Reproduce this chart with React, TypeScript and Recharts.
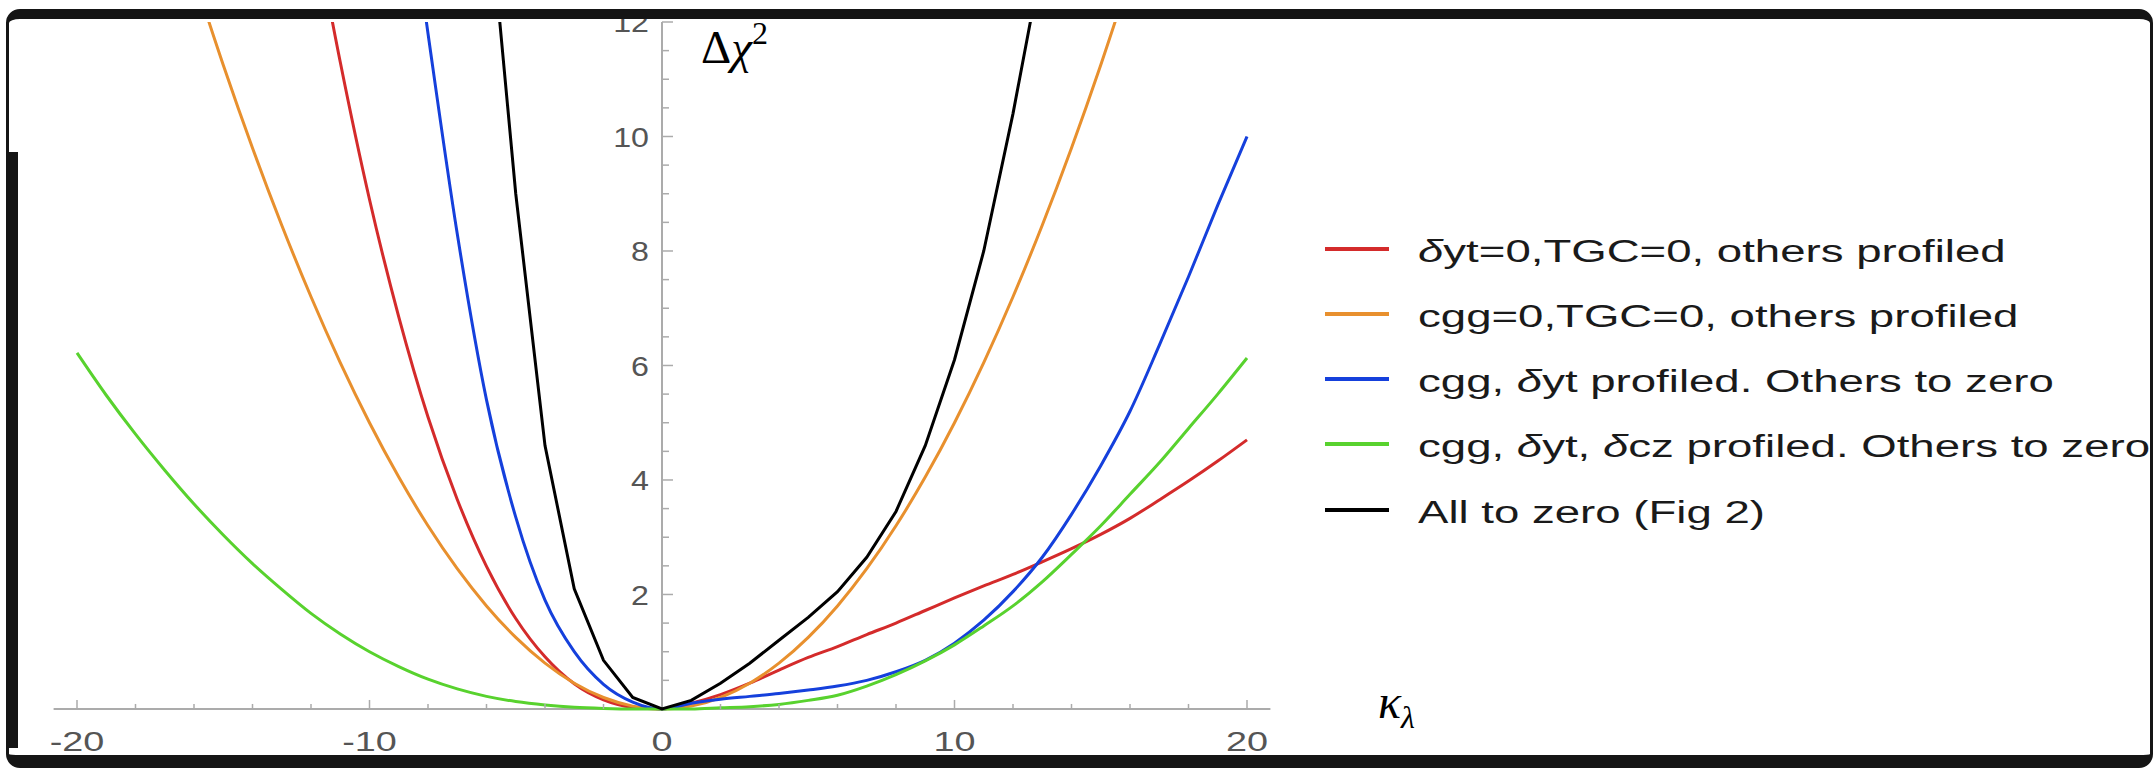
import React from 'react';
import { LineChart, Line, XAxis, YAxis, ReferenceLine, ReferenceDot, Legend } from 'recharts';

// kappa_lambda grid (integer steps)
const kappa = [
  -20, -19, -18, -17, -16, -15, -14, -13, -12, -11, -10, -9, -8, -7, -6, -5, -4, -3, -2, -1, 0,
  1, 2, 3, 4, 5, 6, 7, 8, 9, 10, 11, 12, 13, 14, 15, 16, 17, 18, 19, 20,
];

// delta chi^2 (null = far outside the plotted range)
const redVals = [
  null, null, null, null, null, null, null, null,
  14.0, 11.3, 8.9, 6.85, 5.1, 3.66, 2.49, 1.58, 0.91, 0.44, 0.16, 0.03, 0,
  0.1, 0.25, 0.45, 0.68, 0.9, 1.09, 1.3, 1.5, 1.72, 1.94, 2.15, 2.35, 2.57, 2.8, 3.05, 3.33, 3.65, 3.98, 4.33, 4.7,
];
const orangeVals = [
  null, null, null, null,
  12.8, 11.25, 9.8, 8.45, 7.2, 6.05, 5.0, 4.05, 3.2, 2.45, 1.8, 1.25, 0.8, 0.45, 0.2, 0.05, 0,
  0.05, 0.2, 0.45, 0.8, 1.25, 1.8, 2.45, 3.2, 4.05, 5.0, 6.05, 7.2, 8.45, 9.8, 11.25, 12.8,
  null, null, null, null,
];
const blueVals = [
  null, null, null, null, null, null, null, null, null, null, null,
  15.5, 11.8, 8.3, 5.4, 3.35, 1.9, 1.0, 0.43, 0.12, 0,
  0.1, 0.17, 0.22, 0.27, 0.33, 0.4, 0.5, 0.65, 0.85, 1.15, 1.55, 2.05, 2.65, 3.4, 4.25, 5.2, 6.35, 7.55, 8.8, 10.0,
];
const greenVals = [
  6.22, 5.48, 4.8, 4.17, 3.58, 3.04, 2.54, 2.09, 1.67, 1.31, 1.0, 0.74, 0.52, 0.35, 0.22, 0.13, 0.07, 0.03, 0.01, 0, 0,
  0, 0.02, 0.04, 0.08, 0.15, 0.24, 0.4, 0.6, 0.84, 1.12, 1.45, 1.8, 2.22, 2.7, 3.2, 3.75, 4.3, 4.9, 5.5, 6.13,
];
const blackVals = [
  null, null, null, null, null, null, null, null, null, null, null, null, null, null,
  14.5, 9.0, 4.6, 2.1, 0.85, 0.2, 0,
  0.15, 0.45, 0.8, 1.2, 1.6, 2.05, 2.65, 3.45, 4.6, 6.1, 8.0, 10.4, 13.1,
  null, null, null, null, null, null, null,
];

const xTickLabels = [-20, -10, 0, 10, 20];
const xMinorTicks = [-18, -16, -14, -12, -8, -6, -4, -2, 2, 4, 6, 8, 12, 14, 16, 18];
const xMajorTicks = [-20, -10, 10, 20];
const yMajorTicks = [2, 4, 6, 8, 10, 12];
const yMinorTicks = [0.5, 1, 1.5, 2.5, 3, 3.5, 4.5, 5, 5.5, 6.5, 7, 7.5, 8.5, 9, 9.5, 10.5, 11, 11.5];

const SERIES = [
  { key: 'red', color: '#d42b2b', label: 'δyt=0,TGC=0, others profiled', values: redVals, curve: 'monotone' },
  { key: 'orange', color: '#e8902e', label: 'cgg=0,TGC=0, others profiled', values: orangeVals, curve: 'monotone' },
  { key: 'blue', color: '#1540dc', label: 'cgg, δyt profiled. Others to zero', values: blueVals, curve: 'monotone' },
  { key: 'green', color: '#58d22e', label: 'cgg, δyt, δcz profiled. Others to zero', values: greenVals, curve: 'monotone' },
  { key: 'black', color: '#000000', label: 'All to zero (Fig 2)', values: blackVals, curve: 'linear' },
];

const data = kappa.map((k, i) => {
  const row: Record<string, number | null> = { k };
  SERIES.forEach((s) => {
    row[s.key] = s.values[i];
  });
  return row;
});

const AXIS = '#ababab';
const LABEL = '#555555';
const SANS = '"Liberation Sans", Arial, Helvetica, sans-serif';
const SERIF = '"Liberation Serif", "DejaVu Serif", serif';

const XTick = ({ x, y, payload }: any) => (
  <text
    transform={`translate(${x},${y + 31}) scale(1.4,1)`}
    textAnchor="middle"
    fontSize={27}
    fontFamily={SANS}
    fill={LABEL}
  >
    {payload.value}
  </text>
);

function withDelta(text: string) {
  return text.split('δ').map((part, i) => (
    <React.Fragment key={i}>
      {i > 0 && <i>δ</i>}
      {part}
    </React.Fragment>
  ));
}

const LegendBox = () => (
  <div style={{ fontFamily: SANS }}>
    {SERIES.map((s) => (
      <div key={s.key} style={{ height: 65.25, display: 'flex', alignItems: 'center' }}>
        <span style={{ display: 'inline-block', width: 64, height: 4, background: s.color, marginRight: 29 }} />
        <span
          style={{
            fontSize: 31,
            color: '#1a1a1a',
            whiteSpace: 'nowrap',
            transform: 'scaleX(1.47)',
            transformOrigin: 'left center',
            position: 'relative',
            top: 3,
          }}
        >
          {withDelta(s.label)}
        </span>
      </div>
    ))}
  </div>
);

export default function App() {
  return (
    <div style={{ position: 'absolute', left: 0, top: 0, width: 2156, height: 768, background: '#fff', overflow: 'hidden' }}>
      <LineChart
        width={2156}
        height={768}
        data={data}
        margin={{ top: 22, right: 885.6, bottom: 5.6, left: 53.6 }}
      >
        <XAxis
          type="number"
          dataKey="k"
          domain={[-20.8, 20.8]}
          allowDataOverflow
          ticks={xTickLabels}
          axisLine={false}
          tickLine={false}
          height={50}
          tick={<XTick />}
        />
        <YAxis type="number" domain={[-0.06, 12]} allowDataOverflow hide width={0} />

        {/* axes drawn through the middle, Mathematica style */}
        <ReferenceLine y={0} stroke={AXIS} strokeWidth={2} />
        <ReferenceLine segment={[{ x: 0, y: 0 }, { x: 0, y: 12 }]} stroke={AXIS} strokeWidth={2} />

        {xMinorTicks.map((v) => (
          <ReferenceDot
            key={`xm${v}`}
            x={v}
            y={0}
            r={1}
            shape={(p: any) => <line x1={p.cx} y1={p.cy} x2={p.cx} y2={p.cy - 5} stroke={AXIS} strokeWidth={1.5} />}
          />
        ))}
        {xMajorTicks.map((v) => (
          <ReferenceDot
            key={`xM${v}`}
            x={v}
            y={0}
            r={1}
            shape={(p: any) => <line x1={p.cx} y1={p.cy} x2={p.cx} y2={p.cy - 9} stroke={AXIS} strokeWidth={1.5} />}
          />
        ))}
        {yMinorTicks.map((v) => (
          <ReferenceDot
            key={`ym${v}`}
            x={0}
            y={v}
            r={1}
            shape={(p: any) => <line x1={p.cx} y1={p.cy} x2={p.cx + 7} y2={p.cy} stroke={AXIS} strokeWidth={1.5} />}
          />
        ))}
        {yMajorTicks.map((v) => (
          <ReferenceDot
            key={`yM${v}`}
            x={0}
            y={v}
            r={1}
            shape={(p: any) => (
              <g>
                <line x1={p.cx} y1={p.cy} x2={p.cx + 11} y2={p.cy} stroke={AXIS} strokeWidth={1.5} />
                <text
                  transform={`translate(${p.cx - 13},${p.cy}) scale(1.15,1)`}
                  dy="0.36em"
                  textAnchor="end"
                  fontSize={28}
                  fontFamily={SANS}
                  fill={LABEL}
                >
                  {v}
                </text>
              </g>
            )}
          />
        ))}

        {/* axis titles */}
        <ReferenceDot
          x={0}
          y={12}
          r={1}
          shape={(p: any) => (
            <text x={p.cx + 39} y={p.cy + 41} fontFamily={SERIF} fontSize={47} fill="#000">
              Δ<tspan fontStyle="italic">χ</tspan>
              <tspan fontSize={32} dy={-19}>2</tspan>
            </text>
          )}
        />
        <ReferenceDot
          x={20}
          y={0}
          r={1}
          shape={(p: any) => (
            <text x={p.cx + 131} y={p.cy + 9} fontFamily={SERIF} fontSize={48} fontStyle="italic" fill="#000">
              κ<tspan fontSize={32} dy={10}>λ</tspan>
            </text>
          )}
        />

        {SERIES.map((s) => (
          <Line
            key={s.key}
            type={s.curve as any}
            dataKey={s.key}
            stroke={s.color}
            strokeWidth={3}
            dot={false}
            activeDot={false}
            isAnimationActive={false}
          />
        ))}

        <Legend
          layout="horizontal"
          verticalAlign="middle"
          align="center"
          wrapperStyle={{ left: 1325, top: 216, width: 'auto', height: 'auto' }}
          content={<LegendBox />}
        />
      </LineChart>

      {/* rough black frame of the original picture */}
      <div
        style={{
          position: 'absolute',
          left: 6,
          top: 9,
          width: 2147,
          height: 759,
          boxSizing: 'border-box',
          borderTop: '10px solid #151515',
          borderLeft: '3px solid #151515',
          borderRight: '3px solid #151515',
          borderBottom: '13px solid #151515',
          borderRadius: 14,
          pointerEvents: 'none',
        }}
      />
      <div style={{ position: 'absolute', left: 9, top: 152, width: 9, height: 596, background: '#151515' }} />
    </div>
  );
}
